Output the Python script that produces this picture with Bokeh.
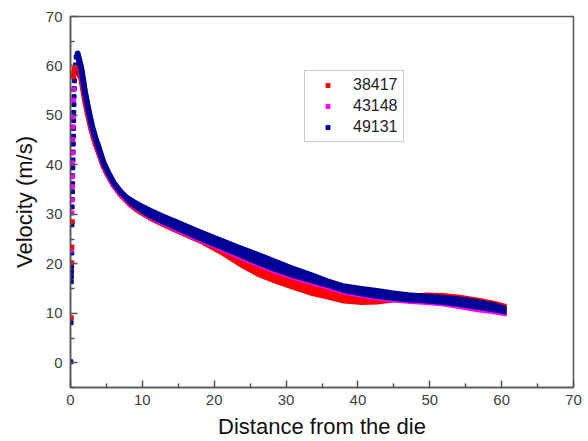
from bokeh.plotting import figure
from bokeh.models import Range1d, FixedTicker, Legend, LegendItem
from bokeh.embed import file_html
from bokeh.resources import INLINE

# ---------------- data ----------------
labels = ["38417", "43148", "49131"]
colors = ["#ff0000", "#ff00ff", "#000096"]

# common x positions along the curves (distance from the die)
xs = [1.0, 1.5, 2.0, 2.5, 3.0, 3.5, 4.0, 4.6, 5.3, 6.0, 7.0, 8.0, 9.0, 10.0, 11.4, 13.0, 15.0,
      18.1, 20.8, 23.6, 26.0, 28.3, 31.0, 33.6, 36.0, 38.0, 40.5, 42.7, 45.0, 47.3, 49.6,
      51.9, 54.2, 56.6, 58.8, 60.7]

# 49131 (blue): lower / upper edge of the thick curve
blue_lo = [62.0, 59.0, 54.3, 50.6, 47.3, 44.8, 42.6, 39.9, 37.8, 35.8, 33.75, 32.1, 31.0, 30.0, 28.85, 27.8, 26.5,
           24.5, 22.9, 21.2, 19.7, 18.4, 17.1, 16.0, 15.0, 14.1, 13.4, 12.9, 12.5, 12.2, 12.0,
           11.7, 11.2, 10.7, 10.2, 9.7]
blue_hi = [63.0, 60.0, 55.3, 51.6, 48.3, 45.8, 43.6, 40.9, 38.8, 37.0, 35.25, 33.9, 33.0, 32.2, 31.2, 30.1, 28.9,
           27.0, 25.4, 23.8, 22.5, 21.2, 19.6, 18.3, 17.0, 16.1, 15.5, 15.1, 14.6, 14.2, 14.0,
           13.7, 13.4, 12.9, 12.3, 11.4]

# 43148 (magenta): nearly the same as the blue one, slightly lower
mag_lo = [61.8, 58.8, 54.1, 50.4, 47.1, 44.6, 42.4, 39.7, 37.6, 35.6, 33.55, 31.9, 30.8, 29.8, 28.65, 27.55, 26.2,
          24.2, 22.6, 20.85, 19.35, 18.05, 16.75, 15.65, 14.65, 13.8, 13.1, 12.6, 12.2, 11.9, 11.7,
          11.35, 10.8, 10.2, 9.8, 9.35]
mag_hi = [62.6, 59.6, 54.9, 51.2, 47.9, 45.4, 43.2, 40.5, 38.4, 36.6, 34.9, 33.5, 32.6, 31.8, 30.9, 29.8, 28.6,
          26.7, 25.1, 23.5, 22.2, 20.9, 19.3, 18.0, 16.7, 15.8, 15.2, 14.8, 14.3, 13.9, 13.7,
          13.4, 13.1, 12.6, 12.0, 11.1]

# 38417 (red): lower edge drops clearly below the others between 20 and 45
red_lo = [58.5, 57.0, 52.7, 49.2, 46.1, 43.7, 41.7, 39.2, 37.2, 35.3, 33.3, 31.6, 30.5, 29.55, 28.4, 27.3, 26.0,
          24.0, 21.9, 19.3, 17.4, 16.05, 14.7, 13.5, 12.7, 12.0, 11.7, 11.8, 12.2, 12.6, 12.8,
          12.6, 12.2, 11.7, 11.1, 10.4]
red_hi = [59.5, 58.0, 53.7, 50.2, 47.1, 44.7, 42.7, 40.2, 38.2, 36.5, 34.7, 33.4, 32.5, 31.7, 30.8, 29.7, 28.4,
          26.5, 22.9, 21.2, 19.7, 18.4, 17.1, 16.0, 15.0, 14.1, 13.4, 12.9, 13.3, 13.9, 14.2,
          14.1, 13.75, 13.2, 12.6, 11.9]

# scattered points of the steep rise right at the die exit
blue_rise_x = [0.05, 0.08, 0.1, 0.12, 0.14, 0.16, 0.18, 0.2, 0.22, 0.24, 0.26, 0.28, 0.3, 0.32, 0.34, 0.36, 0.38, 0.4, 0.42, 0.44, 0.46, 0.48, 0.5, 0.52, 0.55, 0.6, 0.7, 0.8]
blue_rise_y = [0.2, 8.1, 16.4, 17.4, 18.4, 19.4, 22.2, 27.9, 31.5, 33.0, 34.6, 36.2, 37.8, 39.4, 41.0, 42.6, 44.2, 45.8, 47.4, 49.0, 50.6, 52.2, 53.8, 55.4, 57.0, 58.6, 60.2, 61.8]
mag_rise_x = [0.15, 0.2, 0.22, 0.25, 0.27, 0.3, 0.32, 0.34, 0.36, 0.38, 0.4, 0.42, 0.45]
mag_rise_y = [22.8, 30.3, 32.9, 35.6, 37.6, 40.4, 42.4, 45.1, 47.7, 49.7, 53.1, 55.2, 58.0]
red_rise_x = [0.1, 0.18, 0.2, 0.25, 0.4, 0.45, 0.5, 0.7]
red_rise_y = [9.1, 20.2, 23.4, 28.5, 57.8, 58.6, 59.4, 59.6]

x_ticks = [0, 10, 20, 30, 40, 50, 60, 70]
y_ticks = [0, 10, 20, 30, 40, 50, 60, 70]
x_minor = [5, 15, 25, 35, 45, 55, 65]
y_minor = [-5, 5, 15, 25, 35, 45, 55, 65]

# ---------------- figure ----------------
FONT = "Liberation Sans"
p = figure(width=588, height=441, x_range=Range1d(0, 70), y_range=Range1d(-5, 70),
           output_backend="svg", toolbar_location=None,
           min_border_left=70, min_border_right=15, min_border_top=16, min_border_bottom=53)
p.grid.visible = False
p.outline_line_color = "#555555"
p.outline_line_width = 1.5
p.background_fill_color = "white"
p.border_fill_color = "white"

p.xaxis.ticker = FixedTicker(ticks=x_ticks, minor_ticks=x_minor)
p.yaxis.ticker = FixedTicker(ticks=y_ticks, minor_ticks=y_minor)
for ax in (p.xaxis[0], p.yaxis[0]):
    ax.axis_line_color = "#555555"
    ax.axis_line_width = 1.5
    ax.major_tick_line_color = "#555555"
    ax.minor_tick_line_color = "#555555"
    ax.major_tick_line_width = 1.5
    ax.minor_tick_line_width = 1.5
    ax.major_tick_in = 7
    ax.major_tick_out = 0
    ax.minor_tick_in = 4
    ax.minor_tick_out = 0
    ax.major_label_text_font = FONT
    ax.major_label_text_font_size = "15px"
    ax.major_label_text_color = "#404040"
    ax.axis_label_text_font = FONT
    ax.axis_label_text_font_style = "normal"
    ax.axis_label_text_font_size = "22px"
    ax.axis_label_text_color = "#111111"
p.xaxis.axis_label = "Distance from the die"
p.yaxis.axis_label = "Velocity (m/s)"
p.xaxis.major_label_standoff = 7
p.xaxis.axis_label_standoff = 6
p.yaxis.major_label_standoff = 8
p.yaxis.axis_label_standoff = 6

series = [
    (red_lo, red_hi, red_rise_x, red_rise_y, colors[0]),
    (mag_lo, mag_hi, mag_rise_x, mag_rise_y, colors[1]),
    (blue_lo, blue_hi, blue_rise_x, blue_rise_y, colors[2]),
]
for lo, hi, _, _, c in series:
    p.varea(x=xs, y1=lo, y2=hi, fill_color=c)
    mid = [(a + b) / 2 for a, b in zip(lo[:12], hi[:12])]
    p.line(x=xs[:12], y=mid, line_color=c, line_width=6, line_join="round", line_cap="round")

rise = {}
for lo, hi, rx, ry, c in [series[2], series[1], series[0]]:
    rise[c] = p.scatter(rx, ry, marker="square", size=4, color=c)

legend = Legend(items=[LegendItem(label=labels[0], renderers=[rise[colors[0]]]),
                       LegendItem(label=labels[1], renderers=[rise[colors[1]]]),
                       LegendItem(label=labels[2], renderers=[rise[colors[2]]])],
                location=(234, 245))
legend.label_text_font = FONT
legend.label_text_font_size = "16px"
legend.label_text_color = "#222222"
legend.glyph_width = 35
legend.glyph_height = 10
legend.label_height = 17
legend.spacing = 3
legend.padding = 5
legend.margin = 0
legend.label_standoff = 8
legend.border_line_color = "#999999"
legend.border_line_width = 1.5
legend.background_fill_color = "white"
legend.background_fill_alpha = 1.0
p.add_layout(legend)

open("out.html", "w").write(file_html(p, INLINE))
